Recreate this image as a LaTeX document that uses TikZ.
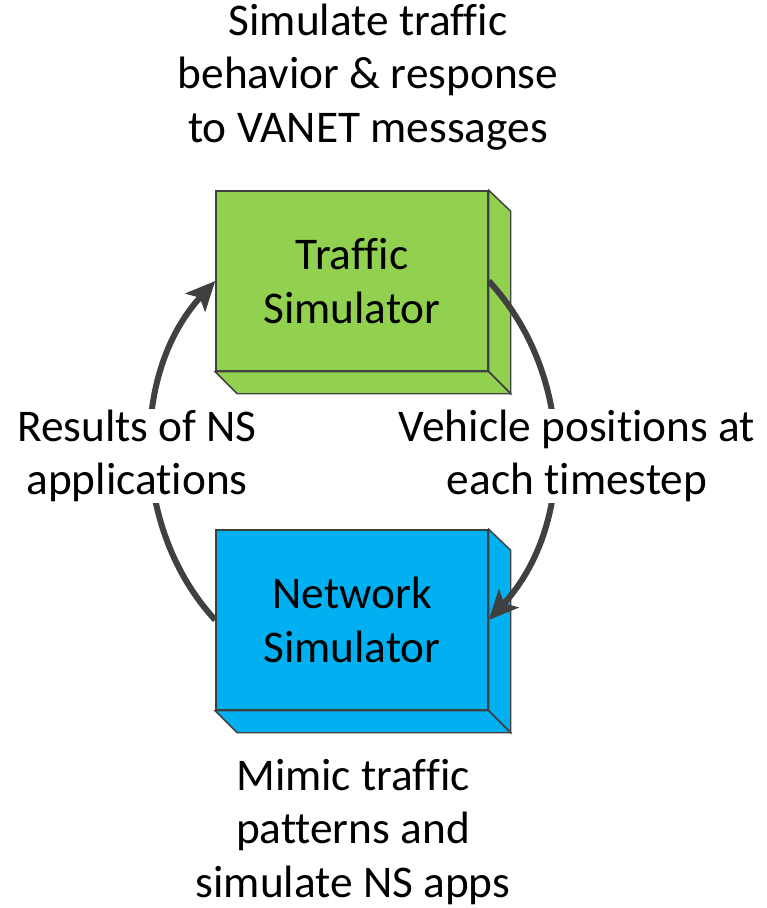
\documentclass[tikz,border=0pt]{standalone}
\usepackage{fontspec}
\setmainfont{Carlito}[Ligatures=NoCommon]
\usetikzlibrary{arrows.meta}
\definecolor{boxgreen}{HTML}{92D050}
\definecolor{boxblue}{HTML}{00B0F0}
\definecolor{edgegray}{HTML}{404040}
\definecolor{arrowgray}{HTML}{404040}
\begin{document}
\begin{tikzpicture}[x=0.75pt,y=-0.75pt,
  lbl/.style={align=center, font=\fontsize{34}{40}\selectfont, inner sep=1pt},
  face/.style={draw=edgegray, line width=1.1pt, line join=miter},
  frontbox/.style={face, minimum width=204pt, minimum height=135pt, inner sep=0pt, lbl},
  flow/.style={draw=arrowgray, line width=4.5pt, -{Stealth[length=22pt,width=20pt,inset=5pt]}}]
\useasboundingbox (0,0) rectangle (767,908);
% Traffic simulator box
\node[frontbox, fill=boxgreen] (traffic) at (352,281) {Traffic\\Simulator};
\filldraw[face, fill=boxgreen] (traffic.north east) -- ++(22,21) -- ([shift={(22,22)}]traffic.south east) -- (traffic.south east) -- cycle;
\filldraw[face, fill=boxgreen] (traffic.south west) -- ([shift={(22,22)}]traffic.south west) -- ([shift={(22,22)}]traffic.south east) -- (traffic.south east) -- cycle;
% Network simulator box
\node[frontbox, fill=boxblue] (network) at (352,620) {Network\\Simulator};
\filldraw[face, fill=boxblue] (network.north east) -- ++(22,21) -- ([shift={(22,22)}]network.south east) -- (network.south east) -- cycle;
\filldraw[face, fill=boxblue] (network.south west) -- ([shift={(22,22)}]network.south west) -- ([shift={(22,22)}]network.south east) -- (network.south east) -- cycle;
% connectors
\draw[flow] (traffic.east) .. controls +(87,94) and +(87,-94) .. (network.east);
\draw[flow] (network.west) .. controls +(-85,-92) and +(-85,92) .. (traffic.west);
% labels
\node[lbl, fill=white] (feedback) at (137,456) {Results of NS\\applications};
\node[lbl, fill=white] (positions) at (577,456) {Vehicle positions at\\each timestep};
\node[lbl] (toptext) at (368,77) {Simulate traffic\\behavior \& response\\to VANET messages};
\node[lbl] (bottomtext) at (353,832) {Mimic traffic\\patterns and\\simulate NS apps};
\end{tikzpicture}
\end{document}
